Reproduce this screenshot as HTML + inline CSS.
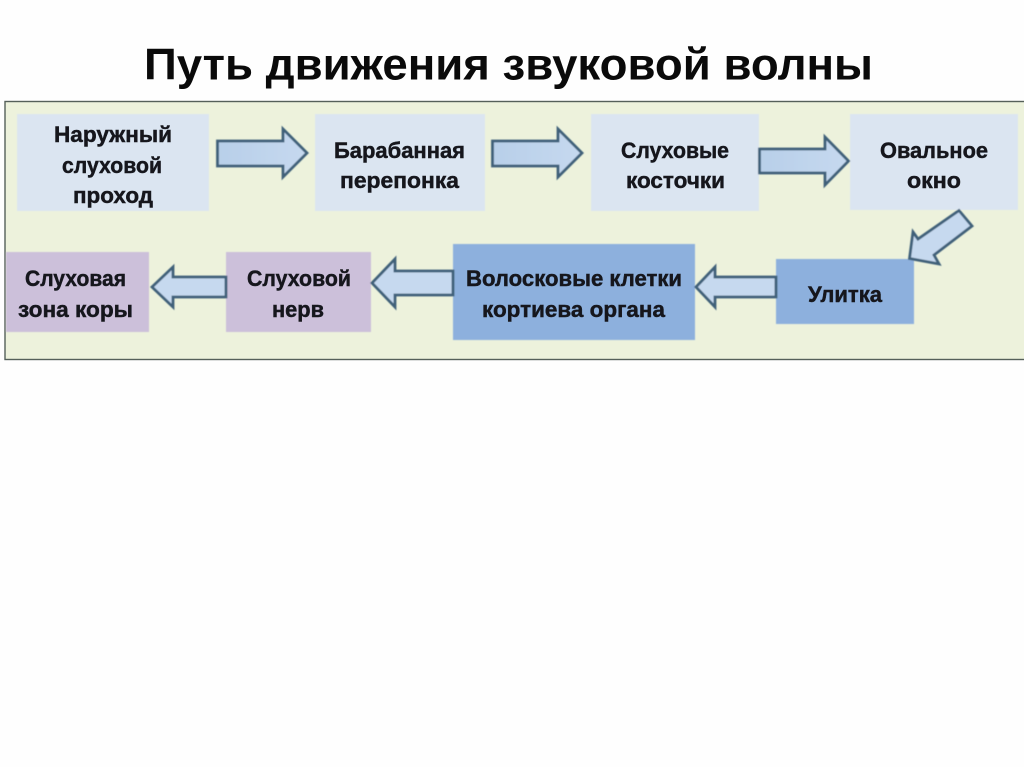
<!DOCTYPE html>
<html lang="ru">
<head>
<meta charset="utf-8">
<style>
html,body{margin:0;padding:0;background:#fff;width:1024px;height:767px;overflow:hidden}
svg{display:block}
.t{font-family:"Liberation Sans",sans-serif;font-weight:bold;font-size:22px;fill:#14161d;stroke:#14161d;stroke-width:0.450;text-anchor:start}
.h{font-family:"Liberation Sans",sans-serif;font-weight:bold;font-size:44.500px;fill:#0a0a0a}
.a{fill:url(#g);stroke:#3f6079;stroke-width:2.800;stroke-linejoin:miter}
.l{fill:url(#g2);stroke:#3f6079;stroke-width:2.800;stroke-linejoin:miter}
</style>
</head>
<body>
<svg width="1024" height="767" viewBox="0 0 1024 767" xmlns="http://www.w3.org/2000/svg">
<defs>
<linearGradient id="g" x1="0" y1="0" x2="1" y2="0">
<stop offset="0" stop-color="#b8cfe9"/>
<stop offset="1" stop-color="#c6d9ef"/>
</linearGradient>
<linearGradient id="g2" x1="0" y1="0" x2="1" y2="0">
<stop offset="0" stop-color="#c6d9ef"/>
<stop offset="1" stop-color="#c6d9ef"/>
</linearGradient>
<filter id="b" x="-2%" y="-2%" width="104%" height="104%"><feGaussianBlur stdDeviation="0.450"/></filter>
<filter id="c" x="-2%" y="-2%" width="104%" height="104%"><feGaussianBlur stdDeviation="0.250"/></filter>
</defs>
<rect width="1024" height="767" fill="#fefefe"/>
<text class="h" x="144" y="79.500" textLength="729" lengthAdjust="spacingAndGlyphs">Путь движения звуковой волны</text>
<rect x="5" y="101.500" width="1030" height="258" fill="#edf2dc" stroke="#55605a" stroke-width="1.400"/>
<g filter="url(#b)">
<rect x="17" y="114" width="192" height="97" fill="#dbe5f1"/>
<rect x="315" y="114" width="170" height="97" fill="#dbe5f1"/>
<rect x="591" y="114" width="168" height="97" fill="#dbe5f1"/>
<rect x="850" y="114" width="168" height="96" fill="#dbe5f1"/>
<rect x="776" y="259" width="138" height="65" fill="#8db0dd"/>
<rect x="453" y="244" width="242" height="96" fill="#8db0dd"/>
<rect x="226" y="252" width="145" height="80" fill="#ccc0da"/>
<rect x="6" y="252" width="143" height="80" fill="#ccc0da"/>
<polygon class="a" points="217.500,141 283,141 283,129 307,153 283,177 283,166 217.500,166"/>
<polygon class="a" points="492.500,141 558,141 558,129 582,153 558,177 558,166 492.500,166"/>
<polygon class="a" points="759.500,149 825,149 825,137 848.500,161 825,185 825,173 759.500,173"/>
<polygon class="l" points="959,210.500 972,226 934,255 939,264 909.500,258.500 913,232 918,239"/>
<polygon class="l" points="776,277 715,277 715,267 696,287 715,307 715,297 776,297"/>
<polygon class="l" points="453,271 395,271 395,259 372,283 395,307 395,295 453,295"/>
<polygon class="l" points="226,277 173,277 173,267 152,287 173,307 173,297 226,297"/>
</g>
<g filter="url(#c)">
<text class="t" x="54" y="142" textLength="118" lengthAdjust="spacingAndGlyphs">Наружный</text>
<text class="t" x="62" y="173" textLength="100" lengthAdjust="spacingAndGlyphs">слуховой</text>
<text class="t" x="73" y="203" textLength="80" lengthAdjust="spacingAndGlyphs">проход</text>
<text class="t" x="334" y="158" textLength="131" lengthAdjust="spacingAndGlyphs">Барабанная</text>
<text class="t" x="340" y="188" textLength="119" lengthAdjust="spacingAndGlyphs">перепонка</text>
<text class="t" x="621" y="158" textLength="108" lengthAdjust="spacingAndGlyphs">Слуховые</text>
<text class="t" x="626" y="188" textLength="99" lengthAdjust="spacingAndGlyphs">косточки</text>
<text class="t" x="880" y="158" textLength="108" lengthAdjust="spacingAndGlyphs">Овальное</text>
<text class="t" x="907" y="188" textLength="54" lengthAdjust="spacingAndGlyphs">окно</text>
<text class="t" x="808" y="302" textLength="74" lengthAdjust="spacingAndGlyphs">Улитка</text>
<text class="t" x="466" y="286" textLength="216" lengthAdjust="spacingAndGlyphs">Волосковые клетки</text>
<text class="t" x="482" y="317" textLength="183" lengthAdjust="spacingAndGlyphs">кортиева органа</text>
<text class="t" x="247" y="286" textLength="104" lengthAdjust="spacingAndGlyphs">Слуховой</text>
<text class="t" x="272" y="317" textLength="52" lengthAdjust="spacingAndGlyphs">нерв</text>
<text class="t" x="25" y="286" textLength="101" lengthAdjust="spacingAndGlyphs">Слуховая</text>
<text class="t" x="18" y="317" textLength="115" lengthAdjust="spacingAndGlyphs">зона коры</text>
</g>
</svg>
</body>
</html>
